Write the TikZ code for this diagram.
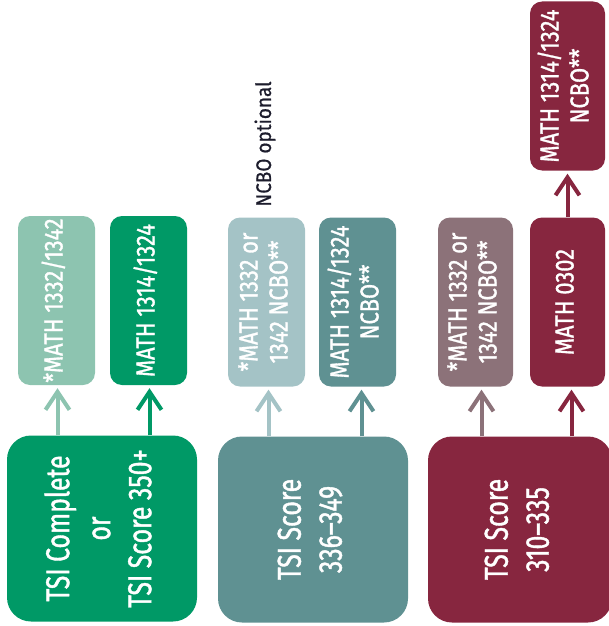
\documentclass[tikz,border=0pt]{standalone}
\usepackage{fontspec}
\usepackage{graphicx}
\usetikzlibrary{arrows.meta}
\newfontfamily\bigcond[FakeStretch=0.75,FakeBold=1.2]{Fira Sans}
\newfontfamily\smallcond[FakeStretch=0.84,FakeBold=1.2]{Fira Sans}
\newfontfamily\notefont[FakeStretch=0.9,FakeBold=0.8]{Fira Sans}
\definecolor{tsigreen}{HTML}{009966}
\definecolor{tsilightgreen}{HTML}{8DC4B0}
\definecolor{tsiteal}{HTML}{5F9192}
\definecolor{tsilightteal}{HTML}{A4C3C6}
\definecolor{tsimaroon}{HTML}{87263F}
\definecolor{tsimauve}{HTML}{8C7279}
\definecolor{notedark}{HTML}{1C1C2C}
\newcommand{\uptext}[1]{\rotatebox{90}{\begin{tabular}{@{}c@{}}#1\end{tabular}}}

\begin{document}
\begin{tikzpicture}[x=1pt, y=-1pt,
    every node/.append style={inner sep=0pt, text=white},
    bigbox/.style={rounded corners=24pt, minimum width=190pt, minimum height=186pt,
      font=\bigcond\fontsize{33}{41}\selectfont},
    smallbox/.style={rounded corners=12pt, minimum width=77pt, minimum height=169pt,
      font=\smallcond\fontsize{26}{30}\selectfont},
    upto/.style={line width=4pt, -{Straight Barb[length=18pt,width=24pt]}, shorten >=3pt}]
  \useasboundingbox (0,0) rectangle (608,626);
  % score boxes
  \node[bigbox, fill=tsigreen] (tsiA) at (102,528.5) {\uptext{TSI Complete\\or\\TSI Score 350+}};
  \node[bigbox, fill=tsiteal] (tsiB) at (313,529.5) {\uptext{TSI Score\\336–349}};
  \node[bigbox, fill=tsimaroon, minimum width=184pt] (tsiC) at (520,529.5) {\uptext{TSI Score\\310–335}};
  % course boxes
  \node[smallbox, fill=tsilightgreen] (lg) at (56.5,300.5) {\uptext{*MATH 1332/1342}};
  \node[smallbox, fill=tsigreen] (g) at (148.5,300.5) {\uptext{MATH 1314/1324}};
  \node[smallbox, fill=tsilightteal] (lt) at (266.5,302) {\uptext{*MATH 1332 or\\1342 NCBO**}};
  \node[smallbox, fill=tsiteal] (t) at (357.5,302) {\uptext{MATH 1314/1324\\NCBO**}};
  \node[smallbox, fill=tsimauve, minimum width=75pt] (m) at (475.5,302) {\uptext{*MATH 1332 or\\1342 NCBO**}};
  \node[smallbox, fill=tsimaroon, minimum width=75pt] (mr) at (567.5,302) {\uptext{MATH 0302}};
  \node[smallbox, fill=tsimaroon, minimum width=75pt] (mt) at (567.5,86) {\uptext{MATH 1314/1324\\NCBO**}};
  \node[text=notedark, font=\notefont\fontsize{21}{24}\selectfont] (ncbo) at (265,144) {\rotatebox{90}{NCBO optional}};
  % arrows
  \draw[upto, draw=tsilightgreen] ([xshift=1pt]lg.south |- tsiA.north) -- ([xshift=1pt]lg.south);
  \draw[upto, draw=tsigreen] ([xshift=1pt]g.south |- tsiA.north) -- ([xshift=1pt]g.south);
  \draw[upto, draw=tsilightteal] ([xshift=2pt]lt.south |- tsiB.north) -- ([xshift=2pt]lt.south);
  \draw[upto, draw=tsiteal] ([xshift=4pt]t.south |- tsiB.north) -- ([xshift=4pt]t.south);
  \draw[upto, draw=tsimauve] ([xshift=6pt]m.south |- tsiC.north) -- ([xshift=6pt]m.south);
  \draw[upto, draw=tsimaroon] ([xshift=4pt]mr.south |- tsiC.north) -- ([xshift=4pt]mr.south);
  \draw[upto, draw=tsimaroon] (mr.north) -- (mt.south);
\end{tikzpicture}
\end{document}
